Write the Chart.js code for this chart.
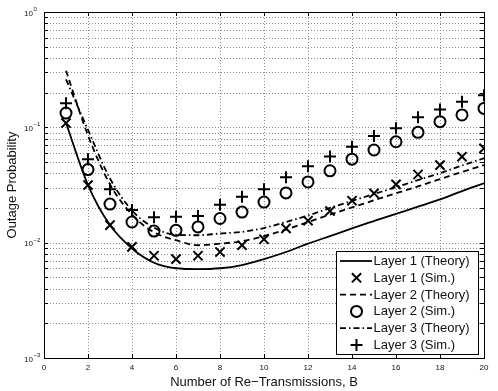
<!DOCTYPE html>
<html lang="en">
<head>
<meta charset="UTF-8" />
<title>Outage Probability vs Re-Transmissions</title>
<script src="https://cdn.jsdelivr.net/npm/chart.js@4.4.0/dist/chart.umd.min.js"></script>
<style>
  body { margin: 0; background: #fff; }
  #wrap { width: 498px; height: 391px; position: relative; }
</style>
</head>
<body>
<div id="wrap"><canvas id="chart"></canvas></div>
<script>
// ---------- data ----------
const B = [1, 2, 3, 4, 5, 6, 7, 8, 9, 10, 11, 12, 13, 14, 15, 16, 17, 18, 19, 20];

const layer1Theory = [0.109, 0.0316, 0.0142, 0.0089, 0.0067, 0.0060, 0.0059, 0.0060, 0.0064, 0.0072,
                      0.0083, 0.0098, 0.0114, 0.0133, 0.0154, 0.0178, 0.0205, 0.0237, 0.0280, 0.0327];
const layer1Sim    = [0.109, 0.0316, 0.0142, 0.0092, 0.0077, 0.0072, 0.0077, 0.0083, 0.0095, 0.0107,
                      0.0133, 0.0155, 0.0188, 0.0231, 0.0268, 0.0320, 0.0390, 0.0470, 0.0556, 0.0657];
const layer2Theory = [0.31, 0.085, 0.032, 0.0175, 0.0123, 0.0105, 0.0095, 0.0098, 0.0103, 0.0114,
                      0.0130, 0.0151, 0.0175, 0.0202, 0.0233, 0.0268, 0.0308, 0.0356, 0.0410, 0.0470];
const layer2Sim    = [0.133, 0.043, 0.0216, 0.0151, 0.0126, 0.0128, 0.0137, 0.0162, 0.0184, 0.0225,
                      0.027, 0.0336, 0.042, 0.053, 0.0636, 0.075, 0.0905, 0.112, 0.128, 0.146];
const layer3Theory = [0.26, 0.095, 0.036, 0.019, 0.0135, 0.0117, 0.0116, 0.0120, 0.0124, 0.0134,
                      0.0151, 0.0172, 0.0200, 0.0230, 0.0264, 0.0303, 0.0349, 0.0400, 0.0466, 0.0540];
const layer3Sim    = [0.162, 0.053, 0.029, 0.0192, 0.0166, 0.0168, 0.0170, 0.0213, 0.025, 0.029,
                      0.037, 0.046, 0.056, 0.068, 0.084, 0.098, 0.122, 0.143, 0.167, 0.19];

const xTicks = [0, 2, 4, 6, 8, 10, 12, 14, 16, 18, 20];
const yDecades = [-3, -2, -1, 0];
const legendLabels = ['Layer 1 (Theory)', 'Layer 1 (Sim.)', 'Layer 2 (Theory)',
                      'Layer 2 (Sim.)', 'Layer 3 (Theory)', 'Layer 3 (Sim.)'];

const FONT = '"Liberation Sans", Arial, Helvetica, sans-serif';

function pts(ys) { return B.map((b, i) => ({ x: b, y: ys[i] })); }

// all log grid positions: 1..9 x 10^e
const yGrid = [];
for (let e = yDecades[0]; e < yDecades[yDecades.length - 1]; e++) {
  for (let m = 1; m <= 9; m++) yGrid.push(m * Math.pow(10, e));
}
yGrid.push(1);

function lineSet(label, ys, dash) {
  return { label, data: pts(ys), borderColor: '#000', borderWidth: 1.8, borderDash: dash,
           pointRadius: 0, fill: false, cubicInterpolationMode: 'monotone' };
}
function markSet(label, ys, style, r) {
  return { label, data: pts(ys), showLine: false, pointStyle: style, pointRadius: r,
           pointBorderColor: '#000', pointBackgroundColor: 'rgba(0,0,0,0)', pointBorderWidth: 2,
           borderColor: '#000' };
}

const datasets = [
  lineSet(legendLabels[0], layer1Theory, []),
  markSet(legendLabels[1], layer1Sim, 'crossRot', 6.5),
  lineSet(legendLabels[2], layer2Theory, [6, 4]),
  markSet(legendLabels[3], layer2Sim, 'circle', 5.5),
  lineSet(legendLabels[4], layer3Theory, [6, 3, 1.5, 3]),
  markSet(legendLabels[5], layer3Sim, 'cross', 6)
];

// dotted grid under the data
const dotGrid = {
  id: 'dotGrid',
  beforeDatasetsDraw(chart) {
    const ctx = chart.ctx, a = chart.chartArea;
    const xs = chart.scales.x, ys = chart.scales.y;
    ctx.save();
    ctx.strokeStyle = '#8c8c8c';
    ctx.lineWidth = 1;
    ctx.setLineDash([1, 2]);
    ctx.beginPath();
    xTicks.forEach(t => {
      const px = Math.round(xs.getPixelForValue(t)) + 0.5;
      ctx.moveTo(px, a.top); ctx.lineTo(px, a.bottom);
    });
    yGrid.forEach(v => {
      const py = Math.round(ys.getPixelForValue(v)) + 0.5;
      ctx.moveTo(a.left, py); ctx.lineTo(a.right, py);
    });
    ctx.stroke();
    ctx.restore();
  }
};

// axis labels, inner ticks, box and legend drawn by hand
const decor = {
  id: 'decor',
  afterDraw(chart) {
    const ctx = chart.ctx, a = chart.chartArea;
    const xs = chart.scales.x, ys = chart.scales.y;
    ctx.save();
    ctx.setLineDash([]);
    ctx.strokeStyle = '#000';
    ctx.lineWidth = 1;
    // inner ticks
    ctx.beginPath();
    xTicks.forEach(t => {
      const px = Math.round(xs.getPixelForValue(t)) + 0.5;
      ctx.moveTo(px, a.bottom); ctx.lineTo(px, a.bottom - 4);
      ctx.moveTo(px, a.top); ctx.lineTo(px, a.top + 4);
    });
    yGrid.forEach(v => {
      const py = Math.round(ys.getPixelForValue(v)) + 0.5;
      ctx.moveTo(a.left, py); ctx.lineTo(a.left + 4, py);
      ctx.moveTo(a.right, py); ctx.lineTo(a.right - 4, py);
    });
    ctx.stroke();
    // box
    ctx.strokeRect(Math.round(a.left) + 0.5, Math.round(a.top) + 0.5,
                   Math.round(a.right - a.left), Math.round(a.bottom - a.top));

    ctx.fillStyle = '#111';
    // x tick labels
    ctx.font = '8px ' + FONT;
    ctx.textAlign = 'center';
    ctx.textBaseline = 'middle';
    xTicks.forEach(t => ctx.fillText(String(t), xs.getPixelForValue(t), 367.5));
    // y tick labels 10^e
    ctx.textAlign = 'left';
    yDecades.forEach(e => {
      const py = ys.getPixelForValue(Math.pow(10, e));
      ctx.font = '8px ' + FONT;
      ctx.fillText('10', 24, py + 1.5);
      const w = ctx.measureText('10').width;
      ctx.font = '6px ' + FONT;
      ctx.fillText(e === 0 ? '0' : '\u2212' + Math.abs(e), 24 + w + 0.5, py - 2.5);
    });
    // axis titles
    ctx.font = '13px ' + FONT;
    ctx.textAlign = 'center';
    ctx.fillText('Number of Re\u2212Transmissions, B', (a.left + a.right) / 2, 382);
    ctx.save();
    ctx.translate(12, (a.top + a.bottom) / 2);
    ctx.rotate(-Math.PI / 2);
    ctx.fillText('Outage Probability', 0, 0);
    ctx.restore();

    // legend
    const lx = 336, ly = 251, lw = 142, lh = 103;
    ctx.fillStyle = '#fff';
    ctx.fillRect(lx, ly, lw, lh);
    ctx.strokeStyle = '#000';
    ctx.strokeRect(lx + 0.5, ly + 0.5, lw, lh);
    chart.data.datasets.forEach((ds, i) => {
      const ry = 261 + i * 16.8;
      ctx.strokeStyle = '#000';
      if (ds.showLine === false) {
        ctx.fillStyle = 'rgba(0,0,0,0)';
        ctx.lineWidth = 2;
        Chart.helpers.drawPoint(ctx, { pointStyle: ds.pointStyle, radius: ds.pointRadius,
          rotation: 0, borderWidth: 2 }, 356.5, ry);
      } else {
        ctx.lineWidth = 1.8;
        ctx.setLineDash(ds.borderDash);
        ctx.beginPath();
        ctx.moveTo(340, ry); ctx.lineTo(372, ry);
        ctx.stroke();
        ctx.setLineDash([]);
      }
      ctx.fillStyle = '#111';
      ctx.font = '13px ' + FONT;
      ctx.textAlign = 'left';
      ctx.textBaseline = 'middle';
      ctx.fillText(ds.label, 373.5, ry + 0.5);
    });
    ctx.restore();
  }
};

new Chart(document.getElementById('chart').getContext('2d'), {
  type: 'line',
  data: { datasets },
  options: {
    responsive: true,
    maintainAspectRatio: false,
    animation: false,
    layout: { padding: { top: 12, right: 14, left: 0, bottom: 0 } },
    plugins: { legend: { display: false }, tooltip: { enabled: false } },
    scales: {
      x: {
        type: 'linear', min: 0, max: 20,
        afterBuildTicks: s => { s.ticks = xTicks.map(v => ({ value: v })); },
        afterFit: s => { s.height = 33; },
        ticks: { display: false },
        grid: { display: false },
        border: { display: false }
      },
      y: {
        type: 'logarithmic', min: 0.001, max: 1,
        afterBuildTicks: s => { s.ticks = yGrid.map(v => ({ value: v })); },
        afterFit: s => { s.width = 44; },
        ticks: { display: false },
        grid: { display: false },
        border: { display: false }
      }
    }
  },
  plugins: [dotGrid, decor]
});
</script>
</body>
</html>
